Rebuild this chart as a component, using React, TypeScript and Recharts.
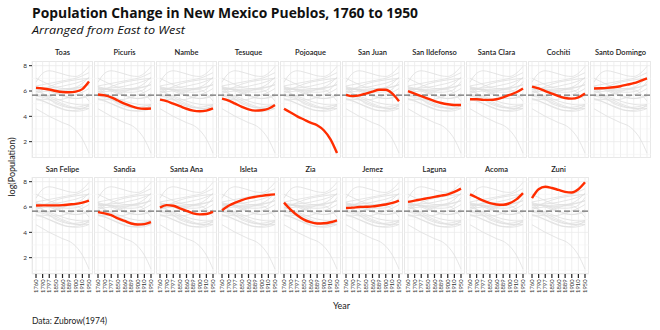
import React from "react";
import { LineChart, Line, XAxis, YAxis, CartesianGrid, ReferenceLine } from "recharts";

const years = ["1760", "1790", "1797", "1850", "1860", "1889", "1900", "1910", "1950"];
const pueblos = [
  "Toas", "Picuris", "Nambe", "Tesuque", "Pojoaque", "San Juan", "San Ildefonso", "Santa Clara", "Cochiti", "Santo Domingo",
  "San Felipe", "Sandia", "Santa Ana", "Isleta", "Zia", "Jemez", "Laguna", "Acoma", "Zuni",
];

const toas = [6.25, 6.2, 6.12, 6.0, 5.92, 5.9, 5.95, 6.15, 6.75];
const picuris = [5.72, 5.65, 5.5, 5.25, 5.0, 4.8, 4.65, 4.6, 4.62];
const nambe = [5.32, 5.2, 5.0, 4.8, 4.6, 4.45, 4.4, 4.45, 4.62];
const tesuque = [5.4, 5.25, 5.0, 4.75, 4.55, 4.45, 4.48, 4.6, 4.9];
const pojoaque = [4.6, 4.3, 4.0, 3.75, 3.5, 3.3, 2.9, 2.2, 1.1];
const sanJuan = [5.7, 5.6, 5.65, 5.8, 5.95, 6.1, 6.1, 5.8, 5.2];
const sanIldefonso = [6.0, 5.8, 5.6, 5.4, 5.2, 5.05, 4.95, 4.9, 4.9];
const santaClara = [5.35, 5.35, 5.3, 5.3, 5.35, 5.5, 5.7, 5.9, 6.2];
const cochiti = [6.35, 6.2, 6.0, 5.8, 5.6, 5.45, 5.4, 5.5, 5.8];
const santoDomingo = [6.2, 6.22, 6.25, 6.3, 6.38, 6.5, 6.62, 6.8, 7.0];
const sanFelipe = [6.12, 6.13, 6.13, 6.13, 6.15, 6.2, 6.25, 6.35, 6.5];
const sandia = [5.6, 5.5, 5.35, 5.1, 4.9, 4.7, 4.62, 4.65, 4.8];
const santaAna = [5.95, 6.15, 6.1, 5.9, 5.7, 5.5, 5.42, 5.45, 5.62];
const isleta = [5.75, 6.1, 6.35, 6.55, 6.7, 6.8, 6.88, 6.95, 7.0];
const zia = [6.35, 5.8, 5.35, 5.0, 4.8, 4.7, 4.72, 4.8, 4.95];
const jemez = [5.92, 5.95, 6.0, 6.02, 6.05, 6.12, 6.2, 6.32, 6.5];
const laguna = [6.4, 6.5, 6.6, 6.7, 6.8, 6.9, 7.0, 7.2, 7.45];
const acoma = [7.0, 6.75, 6.5, 6.3, 6.2, 6.18, 6.3, 6.6, 7.1];
const zuni = [6.7, 7.4, 7.6, 7.5, 7.35, 7.2, 7.15, 7.4, 7.95];

const seriesValues = [
  toas, picuris, nambe, tesuque, pojoaque, sanJuan, sanIldefonso, santaClara, cochiti, santoDomingo,
  sanFelipe, sandia, santaAna, isleta, zia, jemez, laguna, acoma, zuni,
];

const yTicks = [2, 4, 6, 8];
const yMinor = [1, 3, 5, 7];
const meanLine = 5.68;
const yDomain: [number, number] = [0.71, 8.37];

const rows = years.map((y, i) => {
  const r: Record<string, any> = { year: y };
  pueblos.forEach((p, j) => {
    r[p] = seriesValues[j][i];
  });
  return r;
});

const FONT = "Lato, 'DejaVu Sans', sans-serif";
const TFONT = "'Open Sans', 'DejaVu Sans', sans-serif";
const PW = 61;
const PH = 97;
const STEP = 62;
const LEFT0 = 32;
const ROW_TOP = [61, 177];
const YAW = 24;
const XAH = 34;

const XTick = (props: any) => {
  const { x, y, payload } = props;
  return (
    <g transform={`translate(${x},${y})`}>
      <text x={0} y={0} dy={2} transform="rotate(-90)" textAnchor="end" fontSize={5.8} fill="#333" fontFamily={FONT}>
        {payload.value}
      </text>
    </g>
  );
};

const Panel = ({ idx }: { idx: number }) => {
  const row = idx < 10 ? 0 : 1;
  const col = idx < 10 ? idx : idx - 10;
  const name = pueblos[idx];
  const hasY = col === 0;
  const hasX = row === 1;
  const left = LEFT0 + col * STEP;
  const top = ROW_TOP[row];
  const w = PW + (hasY ? YAW : 0);
  const h = PH + (hasX ? XAH : 0);
  return (
    <>
      <div
        style={{
          position: "absolute",
          left,
          top,
          width: PW,
          height: PH,
          boxSizing: "border-box",
          border: "1px solid #e6e6e6",
        }}
      />
      <div style={{ position: "absolute", left: left - (hasY ? YAW : 0), top }}>
        <LineChart width={w} height={h} data={rows} margin={{ top: 0, right: 0, bottom: 0, left: 0 }}>
          <CartesianGrid stroke="#ebebeb" strokeWidth={0.8} />
          {yMinor.map((v) => (
            <ReferenceLine key={v} y={v} stroke="#f3f3f3" strokeWidth={0.6} />
          ))}
          <XAxis
            dataKey="year"
            hide={!hasX}
            height={XAH}
            interval={0}
            padding={{ left: 4, right: 4 }}
            axisLine={false}
            tickLine={{ stroke: "#222", strokeWidth: 1.2 }}
            tickSize={4}
            tickMargin={1.5}
            tick={<XTick />}
          />
          <YAxis
            type="number"
            domain={yDomain}
            allowDataOverflow
            ticks={yTicks}
            hide={!hasY}
            width={YAW}
            axisLine={false}
            tickLine={{ stroke: "#222", strokeWidth: 1 }}
            tickSize={3}
            tickMargin={2}
            tick={{ fontSize: 6.5, fill: "#333", fontFamily: FONT }}
          />
          {pueblos.map((p) => (
            <Line
              key={p}
              type="monotone"
              dataKey={p}
              stroke="#dedede"
              strokeWidth={0.8}
              dot={false}
              isAnimationActive={false}
            />
          ))}
          <ReferenceLine y={meanLine} stroke="#6e6e6e" strokeWidth={1.3} strokeDasharray="6 3" />
          <Line
            type="monotone"
            dataKey={name}
            stroke="#ff2d00"
            strokeWidth={2.4}
            dot={false}
            isAnimationActive={false}
          />
        </LineChart>
      </div>
    </>
  );
};

export default function App() {
  return (
    <div style={{ position: "absolute", left: 0, top: 0, width: 660, height: 330, background: "#fff", overflow: "hidden" }}>
      {pueblos.map((_, i) => (
        <Panel key={i} idx={i} />
      ))}
      <svg width={660} height={330} style={{ position: "absolute", left: 0, top: 0, pointerEvents: "none" }}>
        <text x={32} y={18} fontSize={14} fontWeight={700} fill="#111" fontFamily={TFONT} textLength={386} lengthAdjust="spacingAndGlyphs">
          Population Change in New Mexico Pueblos, 1760 to 1950
        </text>
        <text x={32} y={34} fontSize={11.5} fontStyle="italic" fill="#111" fontFamily={TFONT} textLength={153} lengthAdjust="spacingAndGlyphs">
          Arranged from East to West
        </text>
        {pueblos.map((p, i) => {
          const row = i < 10 ? 0 : 1;
          const col = i < 10 ? i : i - 10;
          const cx = LEFT0 + col * STEP + PW / 2;
          const y = row === 0 ? 54.5 : 171.5;
          return (
            <text key={p} x={cx} y={y} textAnchor="middle" fontSize={7.5} fontWeight={600} fill="#222" fontFamily={FONT}>
              {p}
            </text>
          );
        })}
        <text
          x={0}
          y={0}
          transform="translate(15,167) rotate(-90)"
          textAnchor="middle"
          fontSize={9}
          fill="#222"
          fontFamily={FONT}
        >
          log(Population)
        </text>
        <text x={341.5} y={308.5} textAnchor="middle" fontSize={9} fill="#222" fontFamily={FONT}>
          Year
        </text>
        <text x={32} y={323.5} fontSize={8.5} fill="#222" fontFamily={FONT}>
          Data: Zubrow(1974)
        </text>
      </svg>
    </div>
  );
}
